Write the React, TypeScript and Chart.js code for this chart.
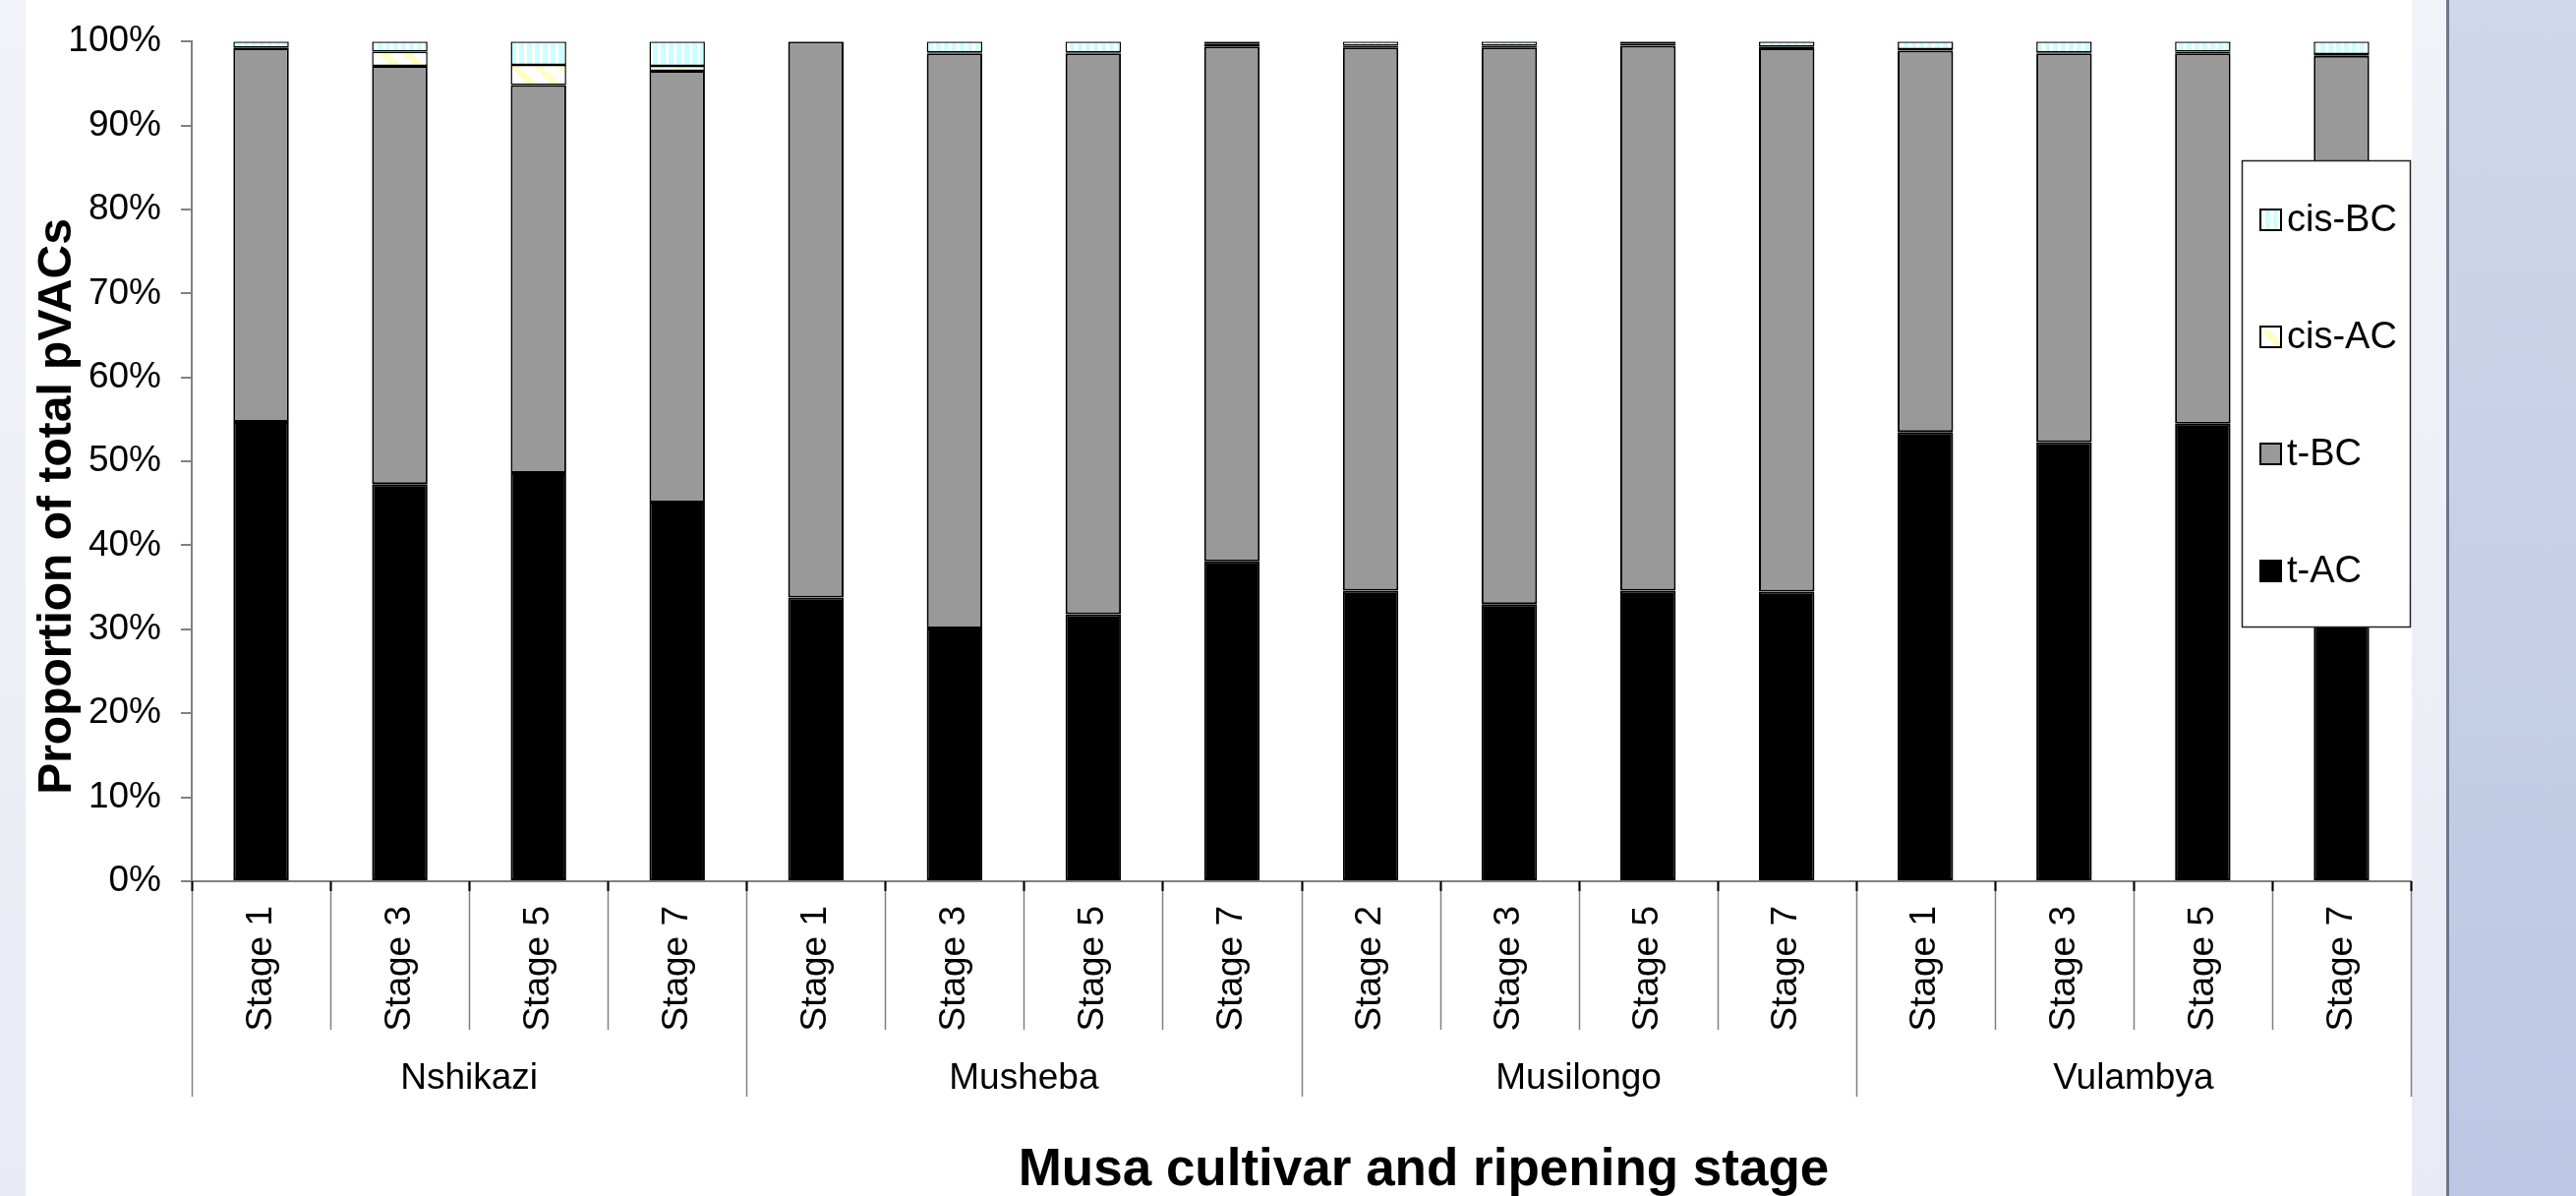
import React, { useEffect, useRef } from 'react';
import { Chart, registerables } from 'chart.js';

Chart.register(...registerables);

const stageLabels = [
  'Stage 1', 'Stage 3', 'Stage 5', 'Stage 7',
  'Stage 1', 'Stage 3', 'Stage 5', 'Stage 7',
  'Stage 2', 'Stage 3', 'Stage 5', 'Stage 7',
  'Stage 1', 'Stage 3', 'Stage 5', 'Stage 7',
];
const cultivars = ['Nshikazi', 'Musheba', 'Musilongo', 'Vulambya'];
const stagesPerCultivar = 4;

const tAC = [54.7, 47.3, 48.6, 45.1, 33.8, 30.1, 31.8, 38.1, 34.6, 33.0, 34.6, 34.5, 53.5, 52.3, 54.5, 51.0];
const tBC = [44.5, 49.8, 46.2, 51.4, 66.2, 68.5, 66.8, 61.3, 64.7, 66.3, 64.9, 64.7, 45.4, 46.3, 44.1, 47.3];
const cisAC = [0.1, 1.7, 2.4, 0.6, 0, 0.1, 0.1, 0.3, 0.2, 0.2, 0.2, 0.2, 0.2, 0.1, 0.2, 0.2];
const cisBC = [0.7, 1.2, 2.8, 2.9, 0, 1.3, 1.3, 0.3, 0.5, 0.5, 0.3, 0.6, 0.9, 1.3, 1.2, 1.5];

const seriesNames = ['t-AC', 't-BC', 'cis-AC', 'cis-BC'];

const yTitle = 'Proportion of total pVACs';
const xTitle = 'Musa cultivar and ripening stage';

const FONT = '"Liberation Sans", Arial, Helvetica, sans-serif';

export default function App() {
  const ref = useRef<HTMLCanvasElement>(null);

  useEffect(() => {
    const canvas = ref.current!;
    const ctx0 = canvas.getContext('2d')!;

    // patterns
    const pc = document.createElement('canvas');
    pc.width = 8; pc.height = 8;
    const pg = pc.getContext('2d')!;
    pg.fillStyle = '#ffffff'; pg.fillRect(0, 0, 8, 8);
    pg.fillStyle = '#ccffff'; pg.fillRect(0, 0, 5, 8);
    const cyanPattern = ctx0.createPattern(pc, 'repeat')!;

    const yc = document.createElement('canvas');
    yc.width = 24; yc.height = 24;
    const yg = yc.getContext('2d')!;
    yg.fillStyle = '#ffffff'; yg.fillRect(0, 0, 24, 24);
    yg.strokeStyle = '#ffffc4'; yg.lineWidth = 7;
    for (const o of [-24, 0, 24]) {
      yg.beginPath(); yg.moveTo(o, 0); yg.lineTo(o + 24, 24); yg.stroke();
    }
    const yellowPattern = ctx0.createPattern(yc, 'repeat')!;

    const fills = ['#000000', '#999999', yellowPattern, cyanPattern];
    const borders = [2, 2, 1.5, 1.5];
    const values = [tAC, tBC, cisAC, cisBC];

    const decor = {
      id: 'decor',
      beforeDraw(chart: any) {
        const ctx = chart.ctx;
        const W = chart.width, H = chart.height;
        ctx.save();
        const g1 = ctx.createLinearGradient(0, 0, 0, H);
        g1.addColorStop(0, '#f2f3f9');
        g1.addColorStop(1, '#e8ebf4');
        ctx.fillStyle = g1;
        ctx.fillRect(0, 0, W, H);
        const g2 = ctx.createLinearGradient(0, 0, 0, H);
        g2.addColorStop(0, '#d0d7eb');
        g2.addColorStop(1, '#bdc7e3');
        ctx.fillStyle = g2;
        ctx.fillRect(2491, 0, W - 2491, H);
        ctx.fillStyle = '#6b778c';
        ctx.fillRect(2488, 0, 3, H);
        ctx.fillStyle = '#ffffff';
        ctx.fillRect(26, 0, 2453 - 26, H);
        ctx.restore();
      },
      afterDraw(chart: any) {
        const ctx = chart.ctx;
        const xs = chart.scales.x;
        const area = chart.chartArea;
        const n = stageLabels.length;
        const step = xs.getPixelForValue(1) - xs.getPixelForValue(0);
        const edge = (i: number) => xs.getPixelForValue(0) - step / 2 + i * step;
        ctx.save();
        // category separators
        for (let i = 0; i <= n; i++) {
          const x = Math.round(edge(i)) + 0.5;
          const isGroup = i % stagesPerCultivar === 0;
          ctx.strokeStyle = '#808080';
          ctx.lineWidth = 1.5;
          ctx.beginPath();
          ctx.moveTo(x, area.bottom);
          ctx.lineTo(x, isGroup ? 1115 : 1047);
          ctx.stroke();
          ctx.strokeStyle = '#000000';
          ctx.lineWidth = 2;
          ctx.beginPath();
          ctx.moveTo(x, area.bottom);
          ctx.lineTo(x, area.bottom + 10);
          ctx.stroke();
        }
        // group labels
        ctx.fillStyle = '#000000';
        ctx.font = `37px ${FONT}`;
        ctx.textAlign = 'center';
        ctx.textBaseline = 'alphabetic';
        cultivars.forEach((c, k) => {
          const cx = (edge(k * stagesPerCultivar) + edge((k + 1) * stagesPerCultivar)) / 2;
          ctx.fillText(c, cx, 1107);
        });
        // titles
        ctx.font = `bold 53px ${FONT}`;
        ctx.textAlign = 'center';
        ctx.fillText(xTitle, 1448, 1205);
        ctx.font = `bold 48px ${FONT}`;
        ctx.save();
        ctx.translate(72, 515);
        ctx.rotate(-Math.PI / 2);
        ctx.fillText(yTitle, 0, 0);
        ctx.restore();
        // legend
        const lx = 2280, ly = 163, lw = 2452 - 2280, lh = 638 - 163;
        ctx.fillStyle = '#ffffff';
        ctx.fillRect(lx, ly, lw, lh);
        ctx.strokeStyle = '#222222';
        ctx.lineWidth = 1.5;
        ctx.strokeRect(lx + 0.5, ly + 0.5, lw - 1, lh - 1);
        ctx.font = `38px ${FONT}`;
        ctx.textAlign = 'left';
        ctx.textBaseline = 'middle';
        const ds = chart.data.datasets;
        for (let k = 0; k < ds.length; k++) {
          const d = ds[ds.length - 1 - k];
          const cy = 223 + k * 119;
          ctx.fillStyle = d.backgroundColor;
          ctx.fillRect(2299, cy - 10, 21, 21);
          ctx.strokeStyle = '#000000';
          ctx.lineWidth = 2;
          ctx.strokeRect(2299, cy - 10, 21, 21);
          ctx.fillStyle = '#000000';
          ctx.fillText(d.label, 2326, cy + 2);
        }
        ctx.restore();
      },
    };

    Chart.defaults.font.family = FONT;

    const chart = new Chart(canvas, {
      type: 'bar',
      data: {
        labels: stageLabels,
        datasets: seriesNames.map((name, i) => ({
          label: name,
          data: values[i],
          backgroundColor: fills[i] as any,
          borderColor: '#000000',
          borderWidth: borders[i],
          borderSkipped: false,
          barPercentage: 0.4,
          categoryPercentage: 1.0,
        })),
      },
      options: {
        responsive: false,
        animation: false,
        layout: { padding: { left: 0, top: 40, right: 168, bottom: 0 } },
        plugins: {
          legend: { display: false },
          tooltip: { enabled: false },
          title: { display: false },
        },
        scales: {
          x: {
            stacked: true,
            grid: { display: false, drawTicks: false },
            border: { display: true, color: '#808080', width: 2 },
            ticks: {
              autoSkip: false,
              minRotation: 90,
              maxRotation: 90,
              padding: 25,
              color: '#000000',
              font: { size: 37 },
            },
            afterFit: (s: any) => { s.height = 320; },
          },
          y: {
            stacked: true,
            min: 0,
            max: 100,
            ticks: {
              stepSize: 10,
              callback: (v: any) => v + '%',
              color: '#000000',
              font: { size: 37 },
              padding: 20,
            },
            grid: { drawOnChartArea: false, drawTicks: true, tickLength: 11, color: '#808080', lineWidth: 2 },
            border: { display: true, color: '#808080', width: 2 },
            afterFit: (s: any) => { s.width = 195; },
          },
        },
      },
      plugins: [decor],
    });

    return () => chart.destroy();
  }, []);

  return (
    <div style={{ position: 'absolute', left: 0, top: 0, width: 2620, height: 1216 }}>
      <canvas ref={ref} width={2620} height={1216} style={{ display: 'block', width: 2620, height: 1216 }} />
    </div>
  );
}
